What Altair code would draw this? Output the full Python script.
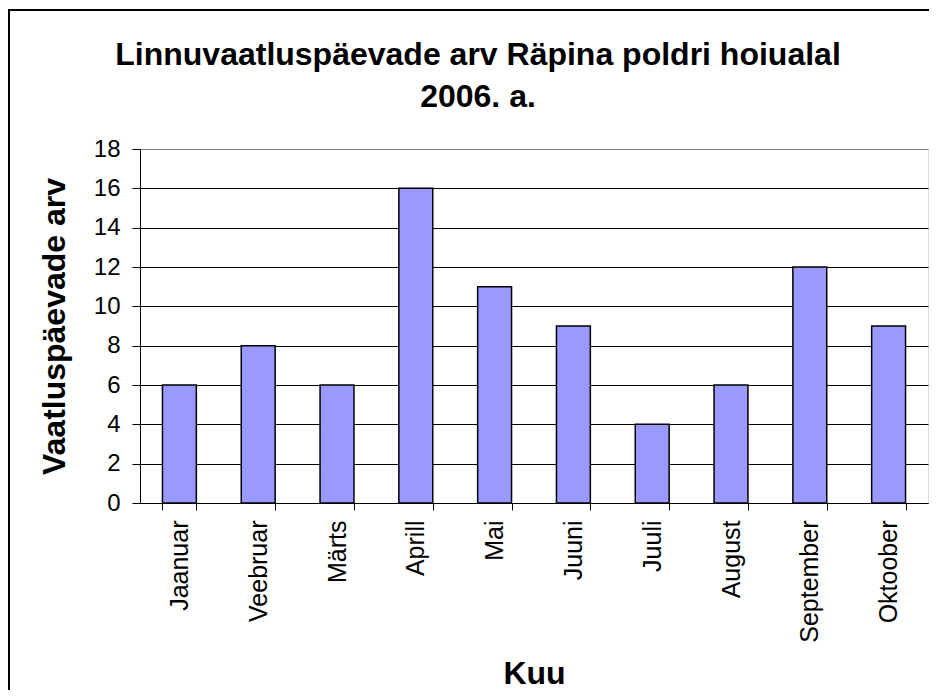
import altair as alt
import pandas as pd

months = ["Jaanuar", "Veebruar", "Märts", "Aprill", "Mai", "Juuni",
          "Juuli", "August", "September", "Oktoober"]
days = [6, 8, 6, 16, 11, 9, 4, 6, 12, 9]
y_ticks = [0, 2, 4, 6, 8, 10, 12, 14, 16, 18]

title_lines = ["Linnuvaatluspäevade arv Räpina poldri hoiualal", "2006. a."]
x_title = "Kuu"
y_title = "Vaatluspäevade arv"

df = pd.DataFrame({"Kuu": months, "Paevi": days})

W, H = 788, 354
FONT = "Liberation Sans"

bars = alt.Chart(df).mark_bar(color="#9999FF", stroke="black", strokeWidth=1.5).encode(
    x=alt.X(
        "Kuu:N", sort=months, title=x_title,
        scale=alt.Scale(paddingInner=0.57, paddingOuter=0.285),
        axis=alt.Axis(
            labelAngle=-90, tickBand="extent", labelFontSize=25, labelFont=FONT,
            labelColor="black", titleFont=FONT, titleFontSize=32, titleFontWeight="bold",
            titleColor="black", domainColor="black", tickColor="black", tickSize=7,
            labelPadding=10, titlePadding=16,
        ),
    ),
    y=alt.Y(
        "Paevi:Q", title=y_title,
        scale=alt.Scale(domain=[0, 18], nice=False),
        axis=alt.Axis(
            values=y_ticks, grid=True,
            gridColor={"condition": {"test": "datum.value === 18", "value": "#808080"}, "value": "black"},
            gridOpacity=1, labelFontSize=24, labelFont=FONT, labelColor="black",
            titleFont=FONT, titleFontSize=32, titleFontWeight="bold", titleColor="black",
            domainColor="black", tickColor="black", tickSize=8, labelPadding=12, titlePadding=22,
        ),
    ),
)

title_df = pd.DataFrame({"t": title_lines, "line": [0, 1]})
title = alt.Chart(title_df).mark_text(
    font=FONT, fontSize=32, fontWeight="bold", color="black", align="center", baseline="alphabetic"
).encode(
    text="t:N",
    x=alt.value(338),
    y=alt.Y("line:Q", scale=alt.Scale(domain=[0, 1], range=[-84, -42], nice=False, zero=False), axis=None),
)

frame = alt.Chart(pd.DataFrame({"a": [0]})).mark_rect(fill=None, stroke="black", strokeWidth=2).encode(
    x=alt.value(-131), x2=alt.value(W + 60), y=alt.value(-139), y2=alt.value(H + 300)
)

chart = alt.layer(bars, title, frame).resolve_scale(y="independent").properties(
    width=W, height=H,
    autosize=alt.AutoSizeParams(type="none"),
    padding={"left": 132, "top": 141, "right": 1, "bottom": 187},
).configure_view(stroke="#808080", strokeWidth=1).configure(background="white")

chart.save("out.html", embed_options={"renderer": "svg", "actions": False})
